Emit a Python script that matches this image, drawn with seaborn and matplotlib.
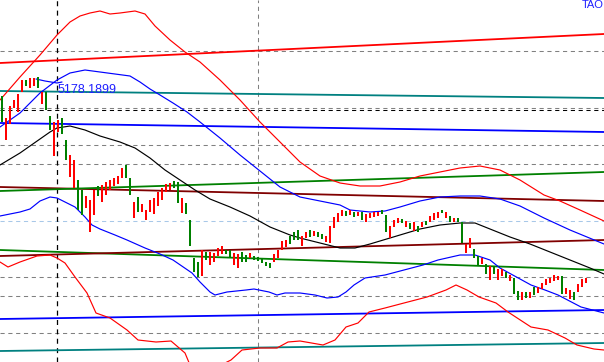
import numpy as np
import pandas as pd
import matplotlib
matplotlib.use("Agg")
import matplotlib.pyplot as plt
import seaborn as sns

sns.set_theme(style="white")
plt.rcParams['font.family'] = ['Liberation Sans', 'DejaVu Sans']

# candles (bar index 0..146)
opens = [5173, 5129, 5145, 5161, 5157, 5177, 5189, 5181, 5183, 5192,
         5165, 5177, 5153, 5113, 5137, 5151, 5129, 5092, 5081, 5089,
         5079, 5061, 5037, 5054, 5083, 5067, 5074, 5079, 5083, 5085,
         5091, 5104, 5091, 5051, 5072, 5057, 5049, 5057, 5055, 5063,
         5069, 5077, 5079, 5088, 5087, 5056, 5066, 5049, 5011, 5007,
         4993, 5017, 5004, 5007, 5013, 5015, 5019, 5019, 5004, 5001,
         5017, 5014, 5011, 5013, 5012, 5011, 5007, 5006, 5007, 5011,
         5019, 5022, 5033, 5037, 5039, 5023, 5031, 5039, 5033, 5037,
         5035, 5027, 5026, 5041, 5047, 5053, 5058, 5054, 5057, 5053,
         5057, 5047, 5051, 5052, 5053, 5059, 5054, 5031, 5042, 5046,
         5050, 5042, 5046, 5038, 5043, 5042, 5048, 5047, 5049, 5051,
         5059, 5051, 5053, 5047, 5051, 5047, 5016, 5021, 5020, 5013,
         5005, 5005, 4989, 5002, 4989, 4993, 4997, 4988, 4991, 4978,
         4969, 4977, 4971, 4982, 4976, 4980, 4984, 4986, 4988, 4989,
         4993, 4975, 4970, 4977, 4977, 4982, 4986]
closes = [5147, 5151, 5163, 5169, 5175, 5189, 5183, 5191, 5191, 5181,
          5177, 5159, 5139, 5147, 5149, 5135, 5109, 5114, 5109, 5059,
          5054, 5073, 5069, 5079, 5073, 5084, 5087, 5089, 5091, 5093,
          5101, 5091, 5074, 5067, 5057, 5065, 5059, 5069, 5071, 5077,
          5081, 5085, 5086, 5081, 5066, 5071, 5055, 5023, 4997, 4992,
          5019, 5009, 5017, 5016, 5021, 5023, 5015, 5011, 5016, 5015,
          5007, 5007, 5016, 5009, 5008, 5006, 5003, 5001, 5015, 5019,
          5028, 5029, 5025, 5029, 5029, 5033, 5037, 5032, 5038, 5032,
          5030, 5033, 5043, 5052, 5056, 5059, 5053, 5059, 5052, 5057,
          5049, 5055, 5056, 5057, 5057, 5055, 5037, 5043, 5049, 5051,
          5046, 5048, 5040, 5047, 5037, 5047, 5044, 5053, 5056, 5057,
          5056, 5057, 5047, 5051, 5047, 5026, 5025, 5031, 5011, 5004,
          5011, 4995, 5003, 4995, 5000, 5000, 4991, 4994, 4975, 4969,
          4977, 4971, 4977, 4974, 4982, 4986, 4990, 4991, 4994, 4993,
          4975, 4981, 4979, 4969, 4985, 4990, 4991]

# outer band (red)
red_up_x = [-0.5, 4.5, 9.5, 13.75, 17, 19.5, 22, 24.5, 27, 29.5, 33.25, 35.75, 38.25, 42,
            45.75, 49.5, 54.5, 59.5, 64.5, 69.5, 74.5, 79.5, 84.5, 89.5, 94.5, 99.5,
            104.5, 109.5, 114.5, 119.5, 124.5, 129.5, 135.5, 139.5, 144.5, 150.5]
red_up_y = [5169, 5192, 5214, 5234, 5247, 5253, 5256, 5258, 5255, 5256, 5258, 5255, 5243, 5229,
            5217, 5207, 5189, 5169, 5147, 5127, 5107, 5093, 5086, 5083, 5083, 5087,
            5093, 5097, 5101, 5103, 5099, 5089, 5074, 5068, 5059, 5048]
red_lo_x = [-0.5, 1.5, 4.5, 8.75, 12, 13.75, 15.75, 18.25, 21.25, 23.5, 27, 31.25, 34, 38.5,
            42.25, 45.75, 47, 49.5, 53.25, 57.25, 60, 64.5, 68.75, 71.5, 74.5, 80.25, 83.25,
            86, 89, 91.75, 95.75, 100.5, 106.25, 111, 113.5, 116.25, 119.25, 123.5, 126.5,
            132.25, 136.5, 140.75, 143.75, 148, 150.5]
red_lo_y = [5007, 5002, 5007, 5013, 5014, 5011, 5006, 4992, 4976, 4956, 4951, 4939, 4929, 4927,
            4928, 4916, 4904, 4897, 4901, 4909, 4919, 4921, 4921, 4927, 4928, 4924, 4929,
            4942, 4946, 4957, 4961, 4966, 4972, 4979, 4984, 4979, 4972, 4966, 4957,
            4942, 4939, 4931, 4924, 4920, 4919]

# inner band (blue)
blue_up_x = [-0.5, 4.5, 9.5, 13.75, 17, 20.75, 24.5, 28.25, 32, 34.5, 37, 39.5, 42.75, 46.25,
             49.5, 54.5, 59.5, 64.5, 69.5, 74.5, 79.5, 84.5, 87, 92, 95.75, 99.5, 104.5,
             109.5, 114.5, 119.5, 124.5, 129.5, 135.5, 142, 150.5]
blue_up_y = [5142, 5156, 5176, 5189, 5196, 5199, 5197, 5195, 5193, 5187, 5180, 5174, 5166, 5157,
             5147, 5131, 5114, 5098, 5082, 5072, 5068, 5064, 5059, 5057, 5058, 5062, 5068,
             5072, 5073, 5073, 5070, 5063, 5051, 5039, 5025]
blue_lo_x = [-0.5, 4.5, 7, 9.5, 12, 13.75, 15.75, 18.25, 20.75, 22.5, 24.5, 28.25, 31.25, 35.75,
             39.5, 42.75, 47.5, 49.5, 52, 53.25, 56.25, 61, 63, 66.75, 68.75, 70.75, 74.5,
             78.25, 81.25, 84, 86, 88, 90.75, 95.75, 100.5, 105.25, 109, 114.5, 118.25, 122,
             124.5, 132.25, 135.75, 139, 144.75, 150.5]
blue_lo_y = [5053, 5057, 5060, 5068, 5072, 5071, 5067, 5062, 5052, 5044, 5040, 5034, 5029, 5021,
             5015, 5009, 4996, 4987, 4977, 4974, 4977, 4979, 4980, 4977, 4974, 4976, 4976,
             4974, 4971, 4972, 4977, 4984, 4991, 4994, 4999, 5004, 5009, 5014, 5014, 5009,
             5001, 4984, 4979, 4974, 4962, 4956]
blue_short_x = [8.5, 10.75, 13.75, 15]
blue_short_y = [5190, 5188, 5186, 5187]

# middle line (black)
mid_x = [-0.5, 4.5, 9.5, 12, 13.75, 17, 20.75, 24.5, 29.5, 33.25, 37, 40.75, 44.5, 48.25, 52,
         57, 62, 67, 72, 74.5, 79.5, 84.5, 88.25, 92, 97, 104.5, 109.5, 114.5, 118.25, 122,
         127, 132, 137, 142, 147, 150.5]
mid_y = [5104, 5116, 5130, 5137, 5141, 5143, 5139, 5133, 5127, 5121, 5111, 5099, 5089, 5079, 5070,
         5062, 5053, 5042, 5034, 5031, 5026, 5021, 5021, 5025, 5031, 5040, 5044, 5046, 5046, 5040,
         5032, 5025, 5017, 5009, 5001, 4995]

# straight trend lines: start price (left edge), end price (right edge)
trend_start = [5206, 5178, 5146, 5082, 5078, 5019, 5013, 4950, 4918]
trend_end = [5235, 5171, 5137, 5068, 5097, 4999, 5029, 4959, 4926]
trend_colors = ['#ff0000', '#008080', '#0000ff', '#800000', '#008000',
                '#008000', '#800000', '#0000ff', '#008080']

grey_levels = [5218, 5161, 5124, 5105, 4992, 4973, 4936]
black_level = 5159
pale_level = 5048
marks = [13.75, 64]

fig = plt.figure(figsize=(6.04, 3.62), dpi=100)
ax = fig.add_axes([0, 0, 1, 1])

dash = (4, 3.5)
for lv in grey_levels:
    ax.axhline(lv, color='#808080', lw=0.75, dashes=dash, zorder=1)
ax.axhline(black_level, color='black', lw=0.75, dashes=dash, zorder=1)
ax.axhline(pale_level, color='#a8c8e8', lw=0.75, dashes=dash, zorder=1)
ax.axvline(marks[0], color='black', lw=0.9, dashes=dash, zorder=1)
ax.axvline(marks[1], color='#808080', lw=0.75, dashes=dash, zorder=1)

for s, e, c in zip(trend_start, trend_end, trend_colors):
    ax.plot([-0.5, 150.5], [s, e], color=c, lw=1.3, zorder=2)

curves = [(red_up_x, red_up_y, '#ff0000'), (red_lo_x, red_lo_y, '#ff0000'),
          (blue_up_x, blue_up_y, '#0000ff'), (blue_lo_x, blue_lo_y, '#0000ff'),
          (blue_short_x, blue_short_y, '#0000ff'), (mid_x, mid_y, '#000000')]
for xs, ys, c in curves:
    df = pd.DataFrame({'bar': xs, 'price': ys})
    sns.lineplot(data=df, x='bar', y='price', ax=ax, color=c, lw=0.85,
                 estimator=None, sort=False, zorder=3)

o = np.array(opens)
c = np.array(closes)
idx = np.arange(len(o))
cols = np.where(c >= o, '#ff0000', '#008000')
ax.bar(idx, np.maximum(np.abs(c - o), 1), bottom=np.minimum(o, c), width=0.55,
       color=cols, linewidth=0, zorder=4)

ax.set_xlim(-0.5, 150.5)
ax.set_ylim(4907, 5269)
ax.axis('off')

ax.text(14.0, 5179, "5178.1899", color='#2020ff', fontsize=9, va='center', ha='left', zorder=5)
ax.text(150.3, 5268.5, "TAO", color='#2020ff', fontsize=8, va='top', ha='right', zorder=5)

fig.savefig('out.png', dpi=100)
